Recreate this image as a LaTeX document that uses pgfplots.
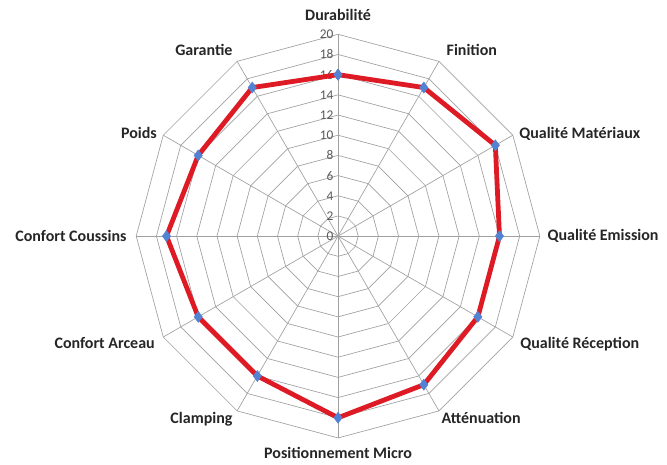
\documentclass[border=0pt]{standalone}
\usepackage{pgfplots}
\pgfplotsset{compat=1.18}
\usepackage{fontspec}
\setmainfont{Carlito}
\definecolor{gridgray}{RGB}{160,160,160}
\definecolor{linered}{RGB}{222,26,36}
\definecolor{mkblue}{RGB}{84,130,210}
\begin{document}
\begin{tikzpicture}
\begin{axis}[
  x=7.575pt, y=7.575pt,
  xmin=-20, xmax=20, ymin=-20, ymax=20,
  hide axis, clip=false,
]
% invisible frame giving the picture its proportions
\addplot[draw=none] coordinates {(-33.5,-22.6) (32.6,23.4)};
% spokes
\pgfplotsinvokeforeach{90,60,30,0,-30,-60,-90,-120,-150,180,150,120}{
  \addplot[gridgray, line width=0.5pt, data cs=polar] coordinates {(#1,0) (#1,20)};
}
% polygon grid
\pgfplotsinvokeforeach{2,4,6,8,10,12,14,16,18,20}{
  \addplot[gridgray, line width=0.5pt, data cs=polar] coordinates {(90,#1) (60,#1) (30,#1) (0,#1) (-30,#1) (-60,#1) (-90,#1) (-120,#1) (-150,#1) (180,#1) (150,#1) (120,#1) (90,#1)};
}
% tick labels
\pgfplotsinvokeforeach{0,2,4,6,8,10,12,14,16,18,20}{
  \node[anchor=east, font=\fontsize{10}{11}\selectfont, text=black!65, inner sep=1pt] at (axis cs:-0.3,#1) {#1};
}
% data
\addplot[linered, line width=3.6pt, data cs=polar, mark=diamond*, mark size=4.2pt,
  mark options={fill=mkblue, draw=mkblue, line width=0.3pt}]
coordinates {(90,16) (60,17) (30,18) (0,16) (-30,16) (-60,17) (-90,18) (-120,16) (-150,16) (180,17) (150,16) (120,17) (90,16)};
% category labels
\node[anchor=south, font=\fontsize{12}{14}\selectfont\bfseries, text=black!85] at (axis cs:0,20.9) {Durabilité};
\node[anchor=south west, font=\fontsize{12}{14}\selectfont\bfseries, text=black!85] at (axis cs:10.3,17.4) {Finition};
\node[anchor=west, font=\fontsize{12}{14}\selectfont\bfseries, text=black!85] at (axis cs:17.5,10.1) {Qualité Matériaux};
\node[anchor=west, font=\fontsize{12}{14}\selectfont\bfseries, text=black!85] at (axis cs:20.3,0) {Qualité Emission};
\node[anchor=north west, font=\fontsize{12}{14}\selectfont\bfseries, text=black!85] at (axis cs:17.6,-9.6) {Qualité Réception};
\node[anchor=north west, font=\fontsize{12}{14}\selectfont\bfseries, text=black!85] at (axis cs:9.8,-17.0) {Atténuation};
\node[anchor=north, font=\fontsize{12}{14}\selectfont\bfseries, text=black!85] at (axis cs:0,-20.5) {Positionnement Micro};
\node[anchor=north east, font=\fontsize{12}{14}\selectfont\bfseries, text=black!85] at (axis cs:-10.0,-17.0) {Clamping};
\node[anchor=north east, font=\fontsize{12}{14}\selectfont\bfseries, text=black!85] at (axis cs:-17.7,-9.6) {Confort Arceau};
\node[anchor=east, font=\fontsize{12}{14}\selectfont\bfseries, text=black!85] at (axis cs:-20.5,0) {Confort Coussins};
\node[anchor=south east, font=\fontsize{12}{14}\selectfont\bfseries, text=black!85] at (axis cs:-17.5,9.2) {Poids};
\node[anchor=south east, font=\fontsize{12}{14}\selectfont\bfseries, text=black!85] at (axis cs:-10.0,17.4) {Garantie};
\end{axis}
\end{tikzpicture}
\end{document}
